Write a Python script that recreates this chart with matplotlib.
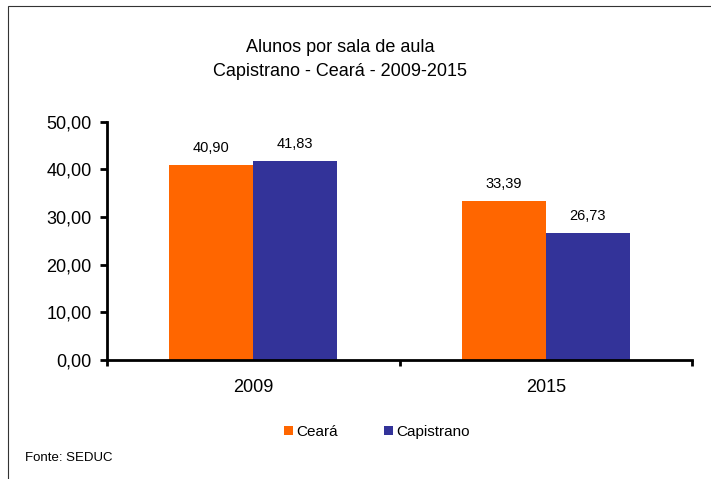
import numpy as np
import matplotlib.pyplot as plt
from matplotlib.patches import Rectangle

# Données
anos = ['2009', '2015']
ceara = [40.90, 33.39]
capistrano = [41.83, 26.73]
series = ['Ceará', 'Capistrano']
cores = ['#FF6600', '#333399']
yticks = [0, 10, 20, 30, 40, 50]

plt.rcParams['font.family'] = ['Liberation Sans', 'DejaVu Sans']

fig = plt.figure(figsize=(7.11, 4.79), dpi=100)

# Cadre du graphique
fig.patches.append(Rectangle((8 / 711, -0.1), 1.2, (479 - 6) / 479 + 0.1,
                             transform=fig.transFigure, fill=False,
                             edgecolor='#333333', linewidth=0.8))

ax = fig.add_axes([107 / 711, 119 / 479, 585 / 711, 238.3 / 479])

x = np.arange(len(anos))
largeur = 0.287
b1 = ax.bar(x - largeur / 2, ceara, largeur, color=cores[0], label=series[0])
b2 = ax.bar(x + largeur / 2, capistrano, largeur, color=cores[1], label=series[1])

def fmt(v):
    return f'{v:.2f}'.replace('.', ',')

for barres, vals in [(b1, ceara), (b2, capistrano)]:
    for b, v in zip(barres, vals):
        ax.annotate(fmt(v), (b.get_x() + b.get_width() / 2, v),
                    xytext=(0, 7), textcoords='offset points',
                    ha='center', va='bottom', fontsize=10.5)

ax.set_xlim(-0.5, 1.5)
ax.set_ylim(0, 50)
ax.set_yticks(yticks)
ax.set_yticklabels([fmt(t) for t in yticks], fontsize=13)
ax.set_xticks(x)
ax.set_xticklabels(anos, fontsize=13)
ax.set_xticks([-0.5, 0.5, 1.5], minor=True)
ax.tick_params(axis='x', which='major', length=0, pad=14)
ax.tick_params(axis='x', which='minor', length=4, width=2, direction='out')
ax.tick_params(axis='y', length=5, width=2, direction='out', pad=6)

for s in ['top', 'right']:
    ax.spines[s].set_visible(False)
for s in ['left', 'bottom']:
    ax.spines[s].set_linewidth(2)

fig.text(340 / 711, 1 - 48 / 479, 'Alunos por sala de aula', ha='center', va='center', fontsize=13)
fig.text(340 / 711, 1 - 72 / 479, 'Capistrano - Ceará - 2009-2015', ha='center', va='center', fontsize=13)

fig.legend(loc='center', bbox_to_anchor=(377 / 711, 1 - 432 / 479), ncol=2, frameon=False,
           fontsize=11, handlelength=0.6, handleheight=0.6, handletextpad=0.2, columnspacing=3.0)

fig.text(25 / 711, 1 - 458 / 479, 'Fonte: SEDUC', ha='left', va='center', fontsize=9.5)

fig.savefig('out.png', dpi=100)
